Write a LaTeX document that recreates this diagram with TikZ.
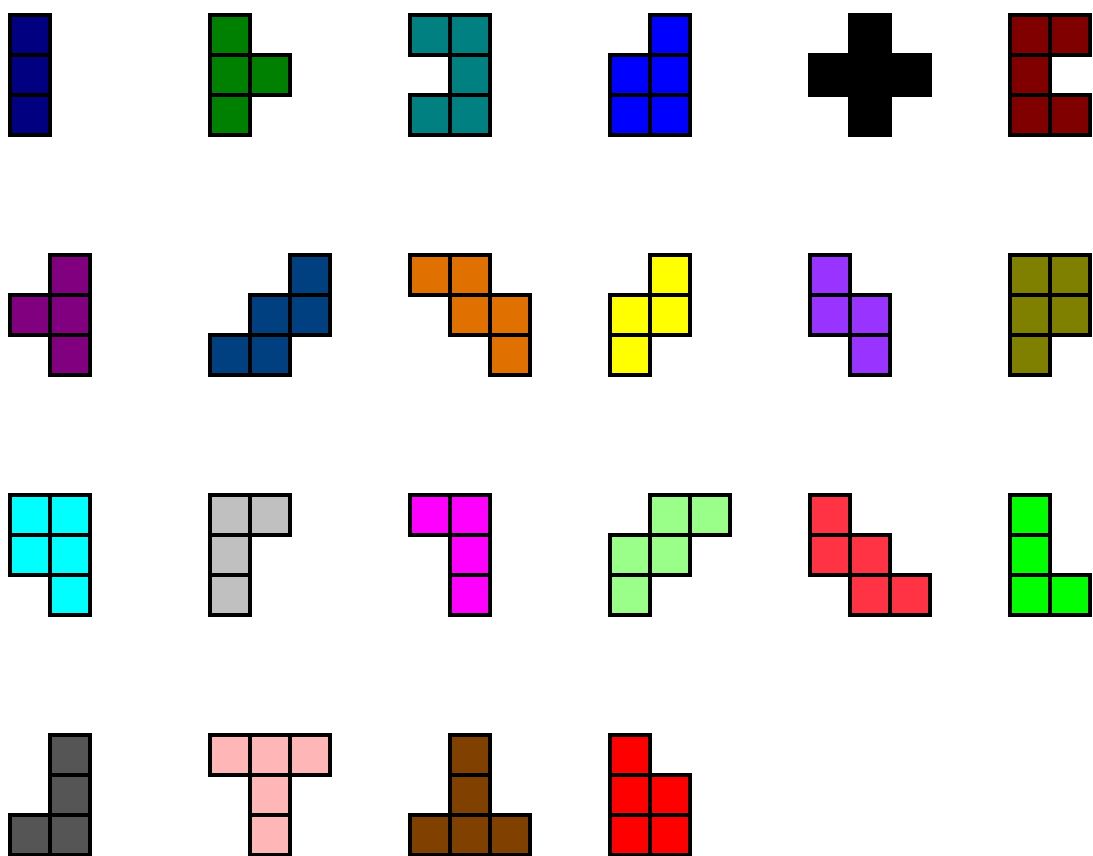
\documentclass[tikz,border=0pt]{standalone}
\usepackage{tikz}
\usetikzlibrary{calc}

\definecolor{navycol}{RGB}{0,0,128}
\definecolor{greencol}{RGB}{0,128,0}
\definecolor{tealcol}{RGB}{0,128,128}
\definecolor{bluecol}{RGB}{0,0,255}
\definecolor{maroon}{RGB}{128,0,0}
\definecolor{purplecol}{RGB}{128,0,128}
\definecolor{darkblue}{RGB}{0,64,128}
\definecolor{orangecol}{RGB}{224,112,0}
\definecolor{yellowcol}{RGB}{255,255,0}
\definecolor{violetcol}{RGB}{153,51,255}
\definecolor{olivecol}{RGB}{128,128,0}
\definecolor{cyancol}{RGB}{0,255,255}
\definecolor{silvercol}{RGB}{192,192,192}
\definecolor{magentacol}{RGB}{255,0,255}
\definecolor{lightgreen}{RGB}{153,255,136}
\definecolor{coral}{RGB}{255,51,68}
\definecolor{limecol}{RGB}{0,255,0}
\definecolor{darkgraycol}{RGB}{85,85,85}
\definecolor{pinkcol}{RGB}{255,182,182}
\definecolor{browncol}{RGB}{128,64,0}
\definecolor{redcol}{RGB}{255,0,0}

\tikzset{
  cell/.style={draw=black, line width=2.7pt},
}

\begin{document}
\begin{tikzpicture}[y=-1cm]
            \useasboundingbox (0,0) rectangle (27.325,21.4);
            % row 1
            \begin{scope}[shift={(0.25,0.375)}]
                \foreach \c/\r in {0/0,0/1,0/2}
                    \draw[cell, fill=navycol] (\c,\r) rectangle ++(1,1);
            \end{scope}
            \begin{scope}[shift={(5.25,0.375)}]
                \foreach \c/\r in {0/0,0/1,1/1,0/2}
                    \draw[cell, fill=greencol] (\c,\r) rectangle ++(1,1);
            \end{scope}
            \begin{scope}[shift={(10.25,0.375)}]
                \foreach \c/\r in {0/0,1/0,1/1,0/2,1/2}
                    \draw[cell, fill=tealcol] (\c,\r) rectangle ++(1,1);
            \end{scope}
            \begin{scope}[shift={(15.25,0.375)}]
                \foreach \c/\r in {1/0,0/1,1/1,0/2,1/2}
                    \draw[cell, fill=bluecol] (\c,\r) rectangle ++(1,1);
            \end{scope}
            \begin{scope}[shift={(20.25,0.375)}]
                \foreach \c/\r in {1/0,0/1,1/1,2/1,1/2}
                    \draw[cell, fill=black] (\c,\r) rectangle ++(1,1);
            \end{scope}
            \begin{scope}[shift={(25.25,0.375)}]
                \foreach \c/\r in {0/0,1/0,0/1,0/2,1/2}
                    \draw[cell, fill=maroon] (\c,\r) rectangle ++(1,1);
            \end{scope}
            % row 2
            \begin{scope}[shift={(0.25,6.375)}]
                \foreach \c/\r in {1/0,0/1,1/1,1/2}
                    \draw[cell, fill=purplecol] (\c,\r) rectangle ++(1,1);
            \end{scope}
            \begin{scope}[shift={(5.25,6.375)}]
                \foreach \c/\r in {2/0,1/1,2/1,0/2,1/2}
                    \draw[cell, fill=darkblue] (\c,\r) rectangle ++(1,1);
            \end{scope}
            \begin{scope}[shift={(10.25,6.375)}]
                \foreach \c/\r in {0/0,1/0,1/1,2/1,2/2}
                    \draw[cell, fill=orangecol] (\c,\r) rectangle ++(1,1);
            \end{scope}
            \begin{scope}[shift={(15.25,6.375)}]
                \foreach \c/\r in {1/0,0/1,1/1,0/2}
                    \draw[cell, fill=yellowcol] (\c,\r) rectangle ++(1,1);
            \end{scope}
            \begin{scope}[shift={(20.25,6.375)}]
                \foreach \c/\r in {0/0,0/1,1/1,1/2}
                    \draw[cell, fill=violetcol] (\c,\r) rectangle ++(1,1);
            \end{scope}
            \begin{scope}[shift={(25.25,6.375)}]
                \foreach \c/\r in {0/0,1/0,0/1,1/1,0/2}
                    \draw[cell, fill=olivecol] (\c,\r) rectangle ++(1,1);
            \end{scope}
            % row 3
            \begin{scope}[shift={(0.25,12.375)}]
                \foreach \c/\r in {0/0,1/0,0/1,1/1,1/2}
                    \draw[cell, fill=cyancol] (\c,\r) rectangle ++(1,1);
            \end{scope}
            \begin{scope}[shift={(5.25,12.375)}]
                \foreach \c/\r in {0/0,1/0,0/1,0/2}
                    \draw[cell, fill=silvercol] (\c,\r) rectangle ++(1,1);
            \end{scope}
            \begin{scope}[shift={(10.25,12.375)}]
                \foreach \c/\r in {0/0,1/0,1/1,1/2}
                    \draw[cell, fill=magentacol] (\c,\r) rectangle ++(1,1);
            \end{scope}
            \begin{scope}[shift={(15.25,12.375)}]
                \foreach \c/\r in {1/0,2/0,0/1,1/1,0/2}
                    \draw[cell, fill=lightgreen] (\c,\r) rectangle ++(1,1);
            \end{scope}
            \begin{scope}[shift={(20.25,12.375)}]
                \foreach \c/\r in {0/0,0/1,1/1,1/2,2/2}
                    \draw[cell, fill=coral] (\c,\r) rectangle ++(1,1);
            \end{scope}
            \begin{scope}[shift={(25.25,12.375)}]
                \foreach \c/\r in {0/0,0/1,0/2,1/2}
                    \draw[cell, fill=limecol] (\c,\r) rectangle ++(1,1);
            \end{scope}
            % row 4
            \begin{scope}[shift={(0.25,18.375)}]
                \foreach \c/\r in {1/0,1/1,0/2,1/2}
                    \draw[cell, fill=darkgraycol] (\c,\r) rectangle ++(1,1);
            \end{scope}
            \begin{scope}[shift={(5.25,18.375)}]
                \foreach \c/\r in {0/0,1/0,2/0,1/1,1/2}
                    \draw[cell, fill=pinkcol] (\c,\r) rectangle ++(1,1);
            \end{scope}
            \begin{scope}[shift={(10.25,18.375)}]
                \foreach \c/\r in {1/0,1/1,0/2,1/2,2/2}
                    \draw[cell, fill=browncol] (\c,\r) rectangle ++(1,1);
            \end{scope}
            \begin{scope}[shift={(15.25,18.375)}]
                \foreach \c/\r in {0/0,0/1,1/1,0/2,1/2}
                    \draw[cell, fill=redcol] (\c,\r) rectangle ++(1,1);
            \end{scope}
        \end{tikzpicture}
\end{document}
